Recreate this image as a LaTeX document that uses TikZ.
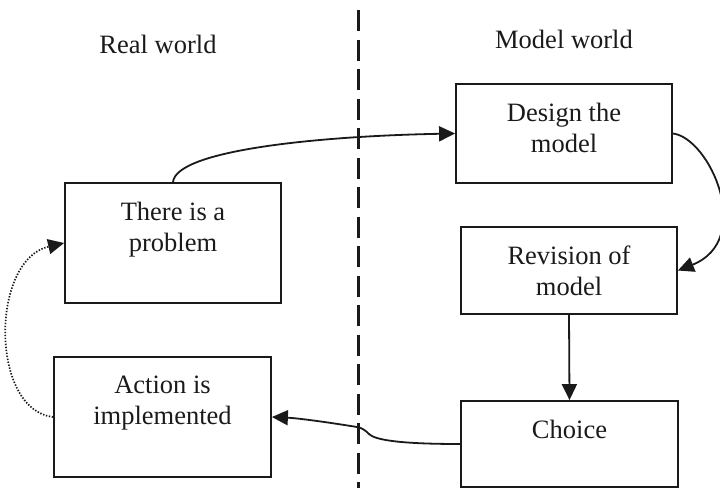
\documentclass[tikz,border=0pt]{standalone}
\usepackage{fontspec}
\setmainfont{Liberation Serif}
\usetikzlibrary{arrows.meta}
\definecolor{ink}{HTML}{1A1A1A}
\begin{document}
\begin{tikzpicture}[x=1pt,y=-1pt,
  box/.style={draw=ink, line width=1.8pt, rectangle, inner sep=0pt},
  txt/.style={font=\fontsize{26.5}{31.5}\selectfont, align=center, inner sep=0pt, text=ink},
  link/.style={line width=1.8pt, draw=ink, -{Triangle[length=16pt,width=15pt]}},
  feedback/.style={link, line width=1.7pt, dash pattern=on 1.4pt off 1.6pt},
  divider/.style={draw=ink, line width=3pt, dash pattern=on 21pt off 8.5pt}]
\useasboundingbox (0,0) rectangle (720,488);

% boundary between the two worlds
\coordinate (divtop) at (358,10);
\coordinate (divbot) at (358,488);
\draw[divider] (divtop) -- (divbot);

% headings
\node[txt, anchor=base] (real) at (158,53) {Real world};
\node[txt, anchor=base] (model) at (564,48) {Model world};

% boxes
\node[box, minimum width=216pt, minimum height=120pt] (problem) at (173,243) {};
\node[box, minimum width=216pt, minimum height=99pt] (design) at (564,133.5) {};
\node[box, minimum width=216pt, minimum height=87pt] (revision) at (569,270.5) {};
\node[box, minimum width=217pt, minimum height=120pt] (action) at (162.5,417) {};
\node[box, minimum width=217pt, minimum height=86pt] (choice) at (569.5,444) {};

% box texts, set near the top of each box
\node[txt, anchor=north] (problem-t) at ([yshift=-19.5pt]problem.north) {There is a\\problem};
\node[txt, anchor=north] (design-t) at ([yshift=-19.5pt]design.north) {Design the\\model};
\node[txt, anchor=north] (revision-t) at ([yshift=-19.5pt]revision.north) {Revision of\\model};
\node[txt, anchor=north] (action-t) at ([yshift=-19.5pt]action.north) {Action is\\implemented};
\node[txt, anchor=north] (choice-t) at ([yshift=-19.5pt]choice.north) {Choice};

% connectors
\draw[link] (problem.north) .. controls (176,150) and (320,136) .. (design.west);
\draw[link] (design.east) .. controls (710,138) and (755,240) .. (revision.east);
\draw[link] (revision.south) -- (choice.north);
\draw[link] (choice.west) .. controls (400,444) and (375,440) .. (369,434)
  .. controls (365,430) and (362,428) .. (357,427)
  .. controls (320,421) and (295,418) .. (action.east);
\draw[feedback] (action.west) .. controls (-10,410) and (-10,260) .. (problem.west);
\end{tikzpicture}
\end{document}
